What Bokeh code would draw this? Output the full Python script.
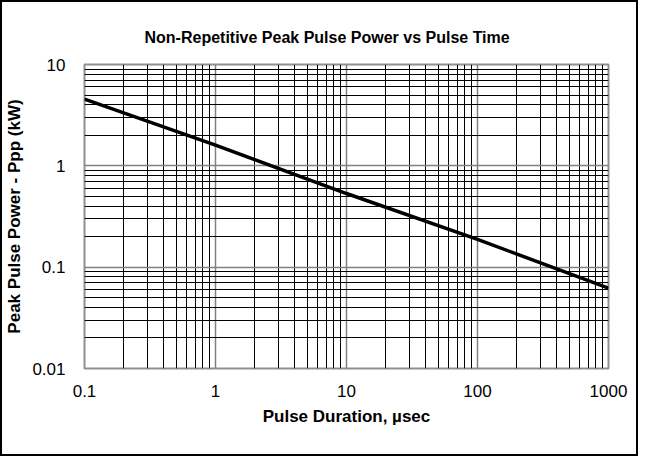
from bokeh.plotting import figure
from bokeh.models import FixedTicker, ColumnDataSource
from bokeh.embed import file_html
from bokeh.resources import INLINE

# Data
pulse_us = [0.1, 1, 10, 100, 1000]
power_kw = [4.56, 1.6, 0.533, 0.188, 0.062]

x_major = [0.1, 1, 10, 100, 1000]
y_major = [0.01, 0.1, 1, 10]
x_labels = {0.1: "0.1", 1: "1", 10: "10", 100: "100", 1000: "1000"}
y_labels = {0.01: "0.01", 0.1: "0.1", 1: "1", 10: "10"}

def minors(majors):
    out = []
    for m in majors[:-1]:
        for k in range(2, 10):
            out.append(round(k * m, 6))
    return out

FONT = "Liberation Sans"

p = figure(width=638, height=456, x_axis_type="log", y_axis_type="log",
           x_range=(0.1, 1000), y_range=(0.01, 10),
           output_backend="svg", toolbar_location=None,
           min_border_left=82, min_border_right=32,
           min_border_top=62, min_border_bottom=90)

p.title.text = "Non-Repetitive Peak Pulse Power vs Pulse Time"
p.title.align = "left"
p.title.offset = 60
p.title.standoff = 38
p.title.text_font = FONT
p.title.text_font_size = "16px"
p.title.text_font_style = "bold"
p.title.text_color = "black"

src = ColumnDataSource(dict(x=pulse_us, y=power_kw))
p.line("x", "y", source=src, line_color="black", line_width=3.5)

p.xaxis.ticker = FixedTicker(ticks=x_major, minor_ticks=minors(x_major))
p.yaxis.ticker = FixedTicker(ticks=y_major, minor_ticks=minors(y_major))
p.xaxis.major_label_overrides = x_labels
p.yaxis.major_label_overrides = y_labels

for ax in (p.xaxis, p.yaxis):
    ax.axis_line_color = None
    ax.major_tick_line_color = None
    ax.minor_tick_line_color = None
    ax.major_label_text_font = FONT
    ax.major_label_text_font_size = "17px"
    ax.major_label_text_color = "black"
    ax.axis_label_text_font = FONT
    ax.axis_label_text_font_size = "17px"
    ax.axis_label_text_font_style = "bold"
    ax.axis_label_text_color = "black"

p.xaxis.axis_label = "Pulse Duration, µsec"
p.yaxis.axis_label = "Peak Pulse Power - Ppp (kW)"
p.xaxis.major_label_standoff = 10
p.yaxis.major_label_standoff = 13
p.xaxis.axis_label_standoff = 7
p.yaxis.axis_label_standoff = 5

for g in (p.xgrid, p.ygrid):
    g.grid_line_color = "#808080"
    g.grid_line_width = 1.5
    g.minor_grid_line_color = "black"
    g.minor_grid_line_width = 1

p.outline_line_color = "#909090"
p.outline_line_width = 2
p.background_fill_color = "white"
p.border_fill_color = "white"
p.styles = {"border": "2px solid black", "box-sizing": "border-box"}

open("out.html", "w").write(file_html(p, INLINE))
